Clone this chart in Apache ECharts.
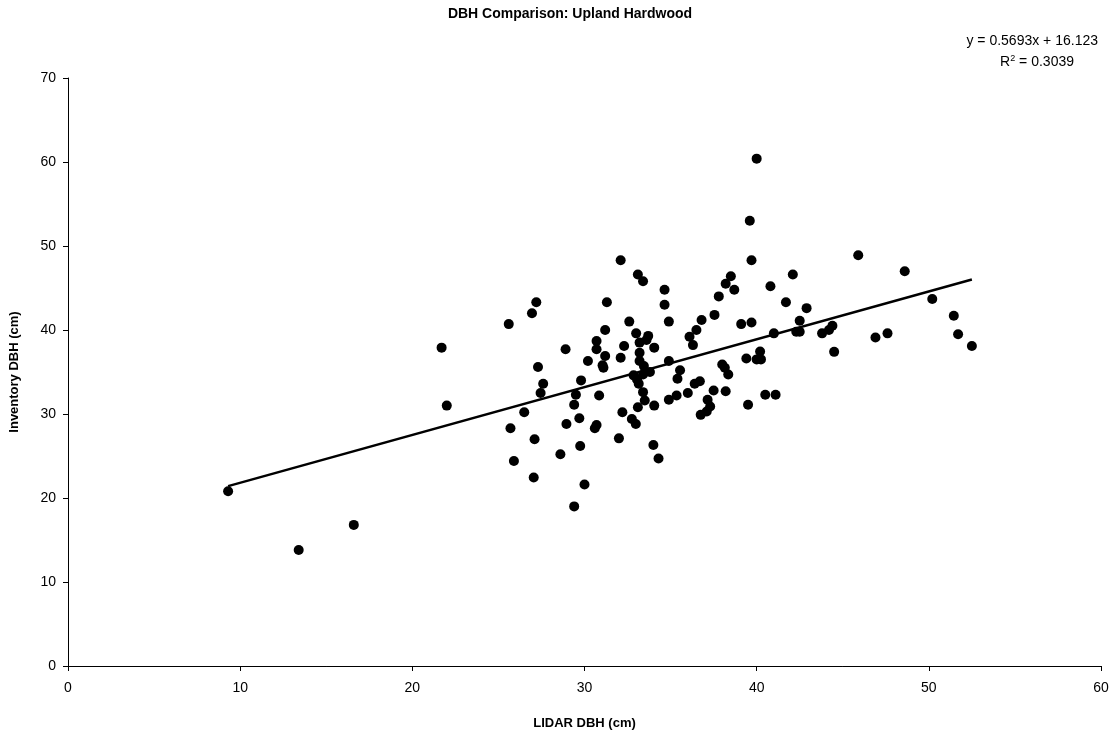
<!DOCTYPE html>
<html>
<head>
<meta charset="utf-8">
<script src="https://cdn.jsdelivr.net/npm/echarts@6/dist/echarts.min.js"></script>
<style>
  html, body { margin: 0; padding: 0; background: #fff; }
  #chart { width: 1116px; height: 735px; }
</style>
</head>
<body>
<div id="chart"></div>
<script>
// LIDAR DBH (cm) vs inventory DBH (cm)
var lidarDbh = [
    9.3, 13.4, 16.6, 21.7, 22.0, 25.6, 25.7, 25.9, 26.5, 26.95,
    27.2, 27.1, 27.05, 27.3, 27.6, 27.45, 28.6, 28.9, 28.95, 29.4,
    29.4, 29.5, 29.7, 29.8, 29.75, 30.0, 30.2, 30.6, 30.7, 30.7,
    30.7, 30.85, 31.05, 31.1, 31.2, 31.2, 31.3, 32.0, 32.1, 32.1,
    32.2, 32.3, 32.6, 32.85, 32.75, 33.05, 33.0, 32.98, 33.1, 33.15,
    33.2, 33.1, 33.2, 33.2, 33.4, 33.4, 33.45, 33.4, 33.5, 33.7,
    33.6, 33.8, 34.05, 34.0, 34.05, 34.3, 34.65, 34.65, 34.9, 34.9,
    34.9, 35.35, 35.4, 35.55, 36.0, 36.1, 36.3, 36.4, 36.5, 36.7,
    36.75, 36.8, 37.15, 37.3, 37.5, 37.55, 37.1, 37.8, 38.0, 38.2,
    38.15, 38.35, 38.5, 38.2, 38.7, 39.1, 39.4, 39.6, 39.5, 39.7,
    39.7, 40.0, 40.2, 40.0, 40.25, 40.5, 40.8, 41.0, 41.1, 41.7,
    42.1, 42.3, 42.5, 42.5, 42.9, 43.8, 44.2, 44.4, 44.5, 45.9,
    46.9, 47.6, 48.6, 50.2, 51.45, 51.7, 52.5
];
var inventoryDbh = [
    20.8, 13.8, 16.8, 37.9, 31.0, 40.7, 28.3, 24.4, 30.2, 42.0,
    43.3, 27.0, 22.45, 35.6, 33.6, 32.5, 25.2, 37.7, 28.8, 19.0,
    31.1, 32.3, 29.5, 34.0, 26.2, 21.6, 36.3, 28.3, 28.7, 38.7,
    37.7, 32.2, 35.8, 35.5, 36.9, 40.0, 43.3, 27.1, 36.7, 48.3,
    30.2, 38.1, 41.0, 34.6, 29.4, 34.1, 39.6, 28.8, 46.6, 33.6,
    38.5, 30.8, 37.3, 36.3, 45.8, 32.6, 35.7, 34.7, 31.6, 39.3,
    38.8, 35.0, 37.9, 26.3, 31.0, 24.7, 44.8, 43.0, 41.0, 36.3,
    31.7, 32.2, 34.2, 35.2, 32.5, 39.2, 38.2, 33.6, 40.0, 33.9,
    29.9, 41.2, 31.7, 30.9, 32.8, 41.8, 30.3, 44.0, 35.9, 45.5,
    35.5, 34.7, 46.4, 32.7, 44.8, 40.7, 36.6, 53.0, 31.1, 48.3,
    40.9, 60.4, 37.45, 36.5, 36.5, 32.3, 45.2, 39.6, 32.3, 43.3,
    46.6, 39.8, 39.8, 41.1, 42.6, 39.6, 40.0, 40.5, 37.4, 48.9,
    39.1, 39.6, 47.0, 43.7, 41.7, 39.5, 38.1
];

// linear trendline from the picture
var slope = 0.5693;
var intercept = 16.123;
var rSquared = '0.3039';

var xTicks = {min: 0, max: 60, interval: 10};
var yTicks = {min: 0, max: 70, interval: 10};

var points = lidarDbh.map(function (x, i) { return [x, inventoryDbh[i]]; });
var xMin = Math.min.apply(null, lidarDbh);
var xMax = Math.max.apply(null, lidarDbh);
var trend = [[xMin, slope * xMin + intercept], [xMax, slope * xMax + intercept]];

var font = 'Liberation Sans, Arial, sans-serif';

var myChart = echarts.init(document.getElementById('chart'));
myChart.setOption({
    animation: false,
    backgroundColor: '#fff',
    title: {
        text: 'DBH Comparison: Upland Hardwood',
        left: 565,
        textAlign: 'center',
        top: 2,
        textStyle: {fontFamily: font, fontSize: 14, fontWeight: 'bold', color: '#000'}
    },
    graphic: [{
        type: 'text',
        right: 18,
        top: 34,
        style: {
            text: 'y = ' + slope + 'x + ' + intercept,
            font: '14px ' + font,
            fill: '#000'
        }
    }, {
        type: 'text',
        right: 42,
        top: 54,
        style: {
            text: '{a|R}{s|2}{a| = ' + rSquared + '}',
            rich: {
                a: {fontFamily: font, fontSize: 14, color: '#000', verticalAlign: 'bottom'},
                s: {fontFamily: font, fontSize: 9, color: '#000', verticalAlign: 'top', padding: [0, 0, 6, 0]}
            }
        }
    }],
    grid: {left: 67, right: 15, top: 78, bottom: 69},
    xAxis: {
        type: 'value',
        min: xTicks.min,
        max: xTicks.max,
        interval: xTicks.interval,
        name: 'LIDAR DBH (cm)',
        nameLocation: 'middle',
        nameGap: 51,
        nameTextStyle: {fontFamily: font, fontSize: 13, fontWeight: 'bold', color: '#000'},
        axisLine: {lineStyle: {color: '#000', width: 1}},
        axisTick: {show: true, length: 5, lineStyle: {color: '#000'}},
        axisLabel: {fontFamily: font, fontSize: 14, color: '#000', margin: 15},
        splitLine: {show: false}
    },
    yAxis: {
        type: 'value',
        min: yTicks.min,
        max: yTicks.max,
        interval: yTicks.interval,
        name: 'Inventory DBH (cm)',
        nameLocation: 'middle',
        nameGap: 47,
        nameTextStyle: {fontFamily: font, fontSize: 13, fontWeight: 'bold', color: '#000'},
        axisLine: {show: true, lineStyle: {color: '#000', width: 1}},
        axisTick: {show: true, length: 5, lineStyle: {color: '#000'}},
        axisLabel: {fontFamily: font, fontSize: 14, color: '#000', margin: 12},
        splitLine: {show: false}
    },
    series: [{
        type: 'scatter',
        data: points,
        symbol: 'circle',
        symbolSize: 10,
        itemStyle: {color: '#000', opacity: 1},
        z: 3
    }, {
        type: 'line',
        data: trend,
        symbol: 'none',
        lineStyle: {color: '#000', width: 2.5},
        z: 2
    }]
});
</script>
</body>
</html>
